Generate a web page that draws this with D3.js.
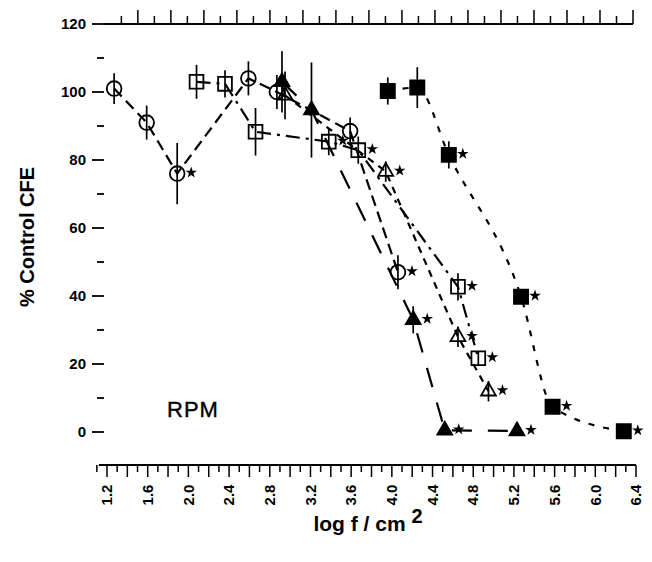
<!DOCTYPE html>
<html><head><meta charset="utf-8">
<script src="https://cdn.jsdelivr.net/npm/d3@7"></script>
<style>body{margin:0;background:#fff}</style>
</head><body>
<svg id="c" width="652" height="562"></svg>
<script>
// ---- data ----
const xTickLabels = [1.2,1.6,2.0,2.4,2.8,3.2,3.6,4.0,4.4,4.8,5.2,5.6,6.0,6.4];
const yTickLabels = [0,20,40,60,80,100,120];

const circX   = [1.27,1.59,1.89,2.59,2.87,3.59,4.06];
const circY   = [101,91,76,104,100,88.5,47];
const circErr = [4.5,5,9,5,5,4,5];
const circSig = [0,0,1,0,0,0,1];

const sqX   = [2.08,2.36,2.66,3.38,3.67,4.65,4.85];
const sqY   = [103,102.4,88.3,85.4,82.9,42.7,21.7];
const sqErr = [5,4,7,4,4,4,2];
const sqSig = [0,0,0,1,1,1,1];

const ftriX   = [2.92,3.21,4.21,4.52,5.23];
const ftriY   = [103,94.7,33,0.5,0.3];
const ftriErr = [9,14,4,0,0];
const ftriSig = [0,0,1,1,1];

const otriX   = [2.95,3.94,4.65,4.95];
const otriY   = [99,76.6,28,12];
const otriErr = [7,3,3,3];
const otriSig = [0,1,1,1];

const fsqX   = [3.96,4.25,4.56,5.27,5.58,6.28];
const fsqY   = [100.3,101.3,81.5,39.8,7.4,0.2];
const fsqErr = [4,6,4,2,0,0];
const fsqSig = [0,0,1,1,1,1];

// ---- chart ----
const svg = d3.select("#c");
const x = d3.scaleLinear().domain([1.2,6.4]).range([107,636]);
const y = d3.scaleLinear().domain([0,120]).range([432,24]);
const topScale = d3.scaleLinear().domain([-1.45,15]).range([90,633]);

const FONT = "'Liberation Sans', Arial, Helvetica, sans-serif";

// top axis
const topG = svg.append("g").attr("transform",`translate(0,${y(120)})`);
topG.append("line").attr("x1",topScale(-1.05)).attr("x2",topScale(15)).attr("y1",0).attr("y2",0)
  .attr("stroke","#000").attr("stroke-width",1.8);
const topTicks = d3.range(-0.5,15.01,0.5);
topG.selectAll("line.t").data(topTicks).join("line").attr("class","t")
  .attr("x1",d=>topScale(d)).attr("x2",d=>topScale(d))
  .attr("y1",0).attr("y2",d=>Math.abs(d-Math.round(d))<1e-6?-14:-8)
  .attr("stroke","#000").attr("stroke-width",1.5);

// left ticks (no axis line)
const yMinor = d3.range(0,121,10);
svg.selectAll("line.yt").data(yMinor).join("line").attr("class","yt")
  .attr("x1",d=>d%20===0?92:97).attr("x2",104)
  .attr("y1",d=>y(d)).attr("y2",d=>y(d))
  .attr("stroke","#000").attr("stroke-width",1.8);
svg.selectAll("text.yl").data(yTickLabels).join("text").attr("class","yl")
  .attr("x",86).attr("y",d=>y(d)).attr("dy","0.35em")
  .attr("text-anchor","end").attr("font-family",FONT).attr("font-weight","bold")
  .attr("font-size",15).text(d=>d);

// bottom axis
const botY = 465;
const botG = svg.append("g");
botG.append("line").attr("x1",x(1.12)).attr("x2",x(6.4)).attr("y1",botY).attr("y2",botY)
  .attr("stroke","#000").attr("stroke-width",1.8);
const botTicks = d3.range(11,65).map(d=>d/10);
botG.selectAll("line.bt").data(botTicks).join("line").attr("class","bt")
  .attr("x1",d=>x(d)).attr("x2",d=>x(d)).attr("y1",botY)
  .attr("y2",d=>Math.round(d*10)%2===0?botY+12:botY+7)
  .attr("stroke","#000").attr("stroke-width",1.5);
botG.selectAll("text.xl").data(xTickLabels).join("text").attr("class","xl")
  .attr("transform",d=>`translate(${x(d)},495) rotate(-90)`)
  .attr("text-anchor","middle").attr("dy","0.35em")
  .attr("font-family",FONT).attr("font-weight","bold").attr("font-size",15)
  .text(d=>d.toFixed(1));

// axis titles
svg.append("text").attr("transform","translate(27,237) rotate(-90)")
  .attr("text-anchor","middle").attr("dy","0.35em")
  .attr("font-family",FONT).attr("font-weight","bold").attr("font-size",20)
  .text("% Control CFE");
const xt = svg.append("text").attr("x",368).attr("y",531).attr("text-anchor","middle")
  .attr("font-family",FONT).attr("font-weight","bold").attr("font-size",21);
xt.append("tspan").text("log f / cm ");
xt.append("tspan").attr("dy",-8).attr("font-size",20).text("2");

svg.append("text").attr("x",167).attr("y",417).attr("font-family",FONT)
  .attr("font-size",22).attr("letter-spacing",1).attr("stroke","#000").attr("stroke-width",0.4)
  .text("RPM");

// series
const series = [
  {xs:circX, ys:circY, err:circErr, sig:circSig, sym:d3.symbolCircle, size:170, fill:"#fff", dash:"11,6", curve:d3.curveLinear},
  {xs:sqX, ys:sqY, err:sqErr, sig:sqSig, sym:d3.symbolSquare, size:190, fill:"#fff", dash:"14,6,3,6", curve:d3.curveLinear},
  {xs:ftriX, ys:ftriY, err:ftriErr, sig:ftriSig, sym:d3.symbolTriangle, size:95, fill:"#000", dash:"20,16", curve:d3.curveLinear},
  {xs:otriX, ys:otriY, err:otriErr, sig:otriSig, sym:d3.symbolTriangle, size:95, fill:"#fff", dash:"7,6", curve:d3.curveLinear},
  {xs:fsqX, ys:fsqY, err:fsqErr, sig:fsqSig, sym:d3.symbolSquare, size:200, fill:"#000", dash:"6,9", curve:d3.curveMonotoneX}
];

series.forEach(s=>{
  const pts = s.xs.map((v,i)=>({x:v,y:s.ys[i],e:s.err[i],sig:s.sig[i]}));
  s.pts = pts;
  svg.append("path").datum(pts)
    .attr("d",d3.line().x(d=>x(d.x)).y(d=>y(d.y)).curve(s.curve))
    .attr("fill","none").attr("stroke","#000").attr("stroke-width",2.2)
    .attr("stroke-dasharray",s.dash);
});
series.forEach(s=>{
  const g = svg.append("g");
  g.selectAll("path.m").data(s.pts).join("path").attr("class","m")
    .attr("transform",d=>`translate(${x(d.x)},${y(d.y)})`)
    .attr("d",d3.symbol().type(s.sym).size(s.size))
    .attr("fill",s.fill).attr("fill-opacity",s.fill==="#fff"?0:1)
    .attr("stroke","#000").attr("stroke-width",1.8);
  g.selectAll("line.eb").data(s.pts.filter(d=>d.e>0)).join("line").attr("class","eb")
    .attr("x1",d=>x(d.x)).attr("x2",d=>x(d.x))
    .attr("y1",d=>y(d.y+d.e)).attr("y2",d=>y(d.y-d.e))
    .attr("stroke","#000").attr("stroke-width",1.7);
  g.selectAll("path.s").data(s.pts.filter(d=>d.sig)).join("path").attr("class","s")
    .attr("transform",d=>`translate(${x(d.x)+14},${y(d.y)-1})`)
    .attr("d",d3.symbol().type(d3.symbolStar).size(42))
    .attr("fill","#000");
});
</script>
</body></html>
